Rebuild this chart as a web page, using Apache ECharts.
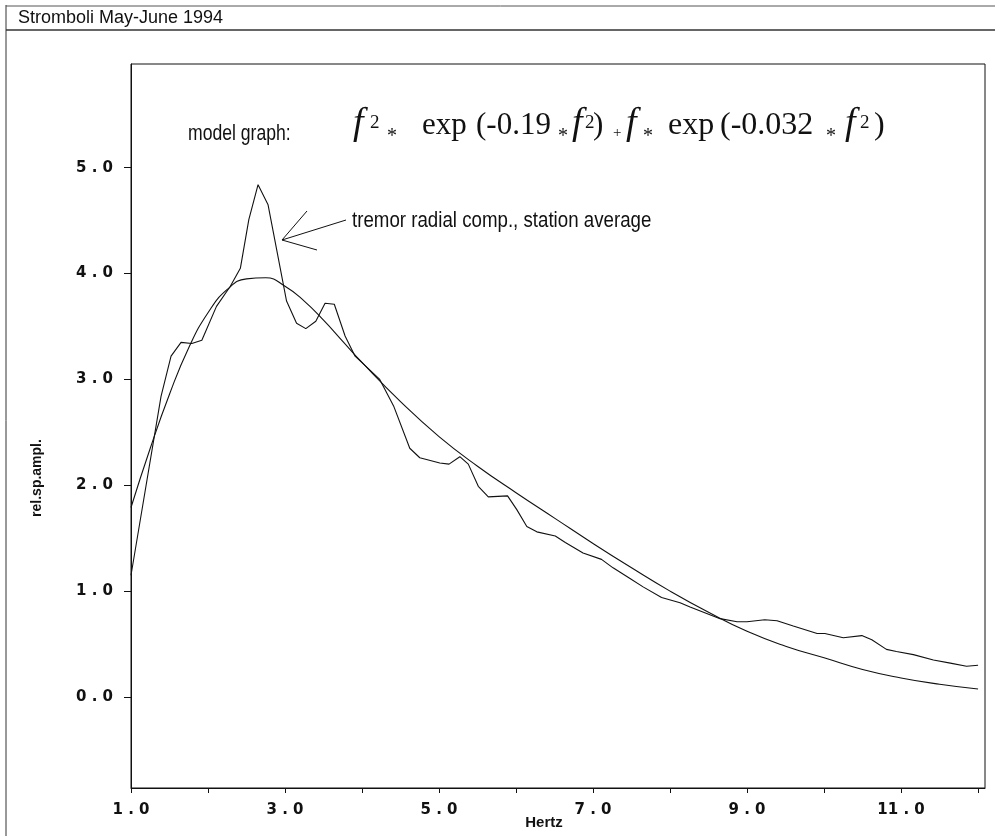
<!DOCTYPE html>
<html>
<head>
<meta charset="utf-8">
<script src="https://cdn.jsdelivr.net/npm/echarts@6/dist/echarts.min.js"></script>
<style>
  html, body { margin: 0; padding: 0; background: #fff; }
  #main { width: 995px; height: 836px; }
</style>
</head>
<body>
<div id="main"></div>
<script>
// measured spectrum (tremor radial comp., station average)
const tremorHz = [1.0, 1.39, 1.52, 1.65, 1.79, 1.92, 2.11, 2.29, 2.42, 2.53, 2.65, 2.78,
  3.02, 3.15, 3.27, 3.40, 3.52, 3.64, 3.78, 3.91, 4.23, 4.41, 4.62, 4.75,
  5.01, 5.13, 5.27, 5.38, 5.51, 5.64, 5.89, 6.01, 6.14, 6.27, 6.51, 6.64, 6.87,
  7.11, 7.26, 7.48, 7.65, 7.89, 8.13, 8.26, 8.65, 8.87, 9.00, 9.23, 9.39, 9.60, 9.91,
  10.01, 10.25, 10.49, 10.62, 10.81, 10.94, 11.16, 11.42, 11.64, 11.85, 12.0]
const tremorAmp = [1.15, 2.84, 3.22, 3.35, 3.34, 3.37, 3.69, 3.88, 4.05, 4.51, 4.84, 4.65,
  3.74, 3.53, 3.48, 3.55, 3.72, 3.71, 3.41, 3.22, 3.00, 2.75, 2.35, 2.26,
  2.21, 2.20, 2.27, 2.20, 1.99, 1.89, 1.90, 1.77, 1.61, 1.56, 1.52, 1.46, 1.36,
  1.30, 1.22, 1.12, 1.04, 0.94, 0.89, 0.85, 0.74, 0.71, 0.71, 0.73, 0.72, 0.67, 0.60,
  0.60, 0.56, 0.58, 0.54, 0.45, 0.43, 0.40, 0.35, 0.32, 0.29, 0.30]

// model graph
const modelHz = [1, 1.25, 1.5, 1.75, 2, 2.25, 2.5, 2.75, 3, 3.25, 3.5, 3.75, 4,
  4.5, 5, 5.5, 6, 6.5, 7, 7.5, 8, 8.5, 9, 9.5, 10, 10.5, 11, 11.5, 12]
const modelAmp = [1.79, 2.35, 2.86, 3.30, 3.63, 3.85, 3.95, 3.96, 3.88, 3.74, 3.56, 3.36, 3.16,
  2.79, 2.46, 2.18, 1.93, 1.69, 1.45, 1.22, 1.00, 0.80, 0.62, 0.48, 0.37, 0.26, 0.18, 0.12, 0.075]

// ticks
const xTicks = [1, 2, 3, 4, 5, 6, 7, 8, 9, 10, 11, 12]
const xLabels = [1, 3, 5, 7, 9, 11]
const yTicks = [0, 1, 2, 3, 4, 5]

const ink = '#111'
const sans = '"Liberation Sans", Arial, sans-serif'
const tickFont = '"DejaVu Sans", Verdana, sans-serif'
const serif = '"Liberation Serif", "Times New Roman", serif'

// "1.0" -> "1 . 0" like the plotter labels
const tickText = v => v.toFixed(1).replace('.', ' . ')

// pieces of the formula text: model graph: f2* exp(-0.19 * f2) + f* exp(-0.032 * f2)
const formulaParts = [
  ['f', 353, 124, 'italic 38px'],
  ['2', 370, 123, '19px'],
  ['*', 387, 137, '20px'],
  ['exp', 422, 126, '31px'],
  ['(-0.19', 476, 126, '31px'],
  ['*', 558, 137, '20px'],
  ['f', 572, 124, 'italic 38px'],
  ['2', 585, 123, '19px'],
  [')', 593, 126, '31px'],
  ['+', 613, 133, '15px'],
  ['f', 626, 124, 'italic 38px'],
  ['*', 643, 137, '20px'],
  ['exp', 668, 126, '32px'],
  ['(-0.032', 720, 126, '32px'],
  ['*', 826, 137, '20px'],
  ['f', 845, 124, 'italic 38px'],
  ['2', 860, 123, '19px'],
  [')', 874, 126, '32px']
]

const chart = echarts.init(document.getElementById('main'))

const line = (x1, y1, x2, y2, w, c) => ({
  type: 'line', silent: true,
  shape: { x1, y1, x2, y2 },
  style: { stroke: c || ink, lineWidth: w || 1 }
})

const graphic = [
  // page frame and title rule
  line(6, 5, 6, 836, 1, '#333'),
  line(6, 6, 995, 6, 1, '#555'),
  line(6, 30, 995, 30, 1.4, '#333'),
  {
    type: 'text', left: 18, top: 9,
    style: { text: 'Stromboli May-June 1994', fill: ink, font: '18px ' + sans }
  },
  // axis titles
  {
    type: 'text', x: 37, y: 478, rotation: Math.PI / 2,
    style: {
      text: 'rel.sp.ampl.', fill: ink, font: 'bold 14px ' + sans,
      textAlign: 'center', textVerticalAlign: 'middle'
    }
  },
  {
    type: 'text', x: 544, y: 823,
    style: {
      text: 'Hertz', fill: ink, font: 'bold 15px ' + sans,
      textAlign: 'center', textVerticalAlign: 'middle'
    }
  },
  // formula label (narrow face)
  {
    type: 'text', x: 188, y: 134, scaleX: 0.8,
    style: {
      text: 'model graph:', fill: ink, font: '22px ' + sans,
      textAlign: 'left', textVerticalAlign: 'middle'
    }
  },
  // annotation and arrow
  {
    type: 'text', x: 352, y: 221, scaleX: 0.85,
    style: {
      text: 'tremor radial comp., station average', fill: ink,
      font: '22px ' + sans, textAlign: 'left', textVerticalAlign: 'middle'
    }
  },
  line(282, 240, 307, 211),
  line(282, 240, 346, 220),
  line(282, 240, 317, 250)
]

formulaParts.forEach(([t, x, y, f]) => {
  graphic.push({
    type: 'text', x, y,
    style: { text: t, fill: ink, font: f + ' ' + serif, textAlign: 'left', textVerticalAlign: 'middle' }
  })
})

const option = {
  animation: false,
  backgroundColor: '#fff',
  grid: {
    left: 131, right: 10, top: 64, bottom: 48,
    show: true, borderColor: ink, borderWidth: 1, backgroundColor: 'transparent'
  },
  xAxis: {
    type: 'value',
    min: 1, max: 12.09,
    axisLine: { onZero: false, lineStyle: { color: ink, width: 1 } },
    axisTick: { show: true, inside: false, length: 5, customValues: xTicks, lineStyle: { color: ink } },
    splitLine: { show: false },
    axisLabel: {
      margin: 15, customValues: xLabels,
      color: ink, fontFamily: tickFont, fontWeight: 'bold', fontSize: 15,
      formatter: tickText
    }
  },
  yAxis: {
    type: 'value',
    min: -0.86, max: 5.98,
    axisLine: { show: true, onZero: false, lineStyle: { color: ink, width: 1 } },
    axisTick: { show: true, inside: false, length: 7, customValues: yTicks, lineStyle: { color: ink } },
    splitLine: { show: false },
    axisLabel: {
      margin: 18, customValues: yTicks,
      color: ink, fontFamily: tickFont, fontWeight: 'bold', fontSize: 15,
      formatter: tickText
    }
  },
  series: [
    {
      name: 'tremor radial comp., station average',
      type: 'line',
      data: tremorHz.map((x, i) => [x, tremorAmp[i]]),
      showSymbol: false,
      lineStyle: { color: ink, width: 1.1 }
    },
    {
      name: 'model graph',
      type: 'line',
      smooth: true,
      data: modelHz.map((x, i) => [x, modelAmp[i]]),
      showSymbol: false,
      lineStyle: { color: ink, width: 1.1 }
    }
  ],
  graphic
}

chart.setOption(option)
</script>
</body>
</html>
